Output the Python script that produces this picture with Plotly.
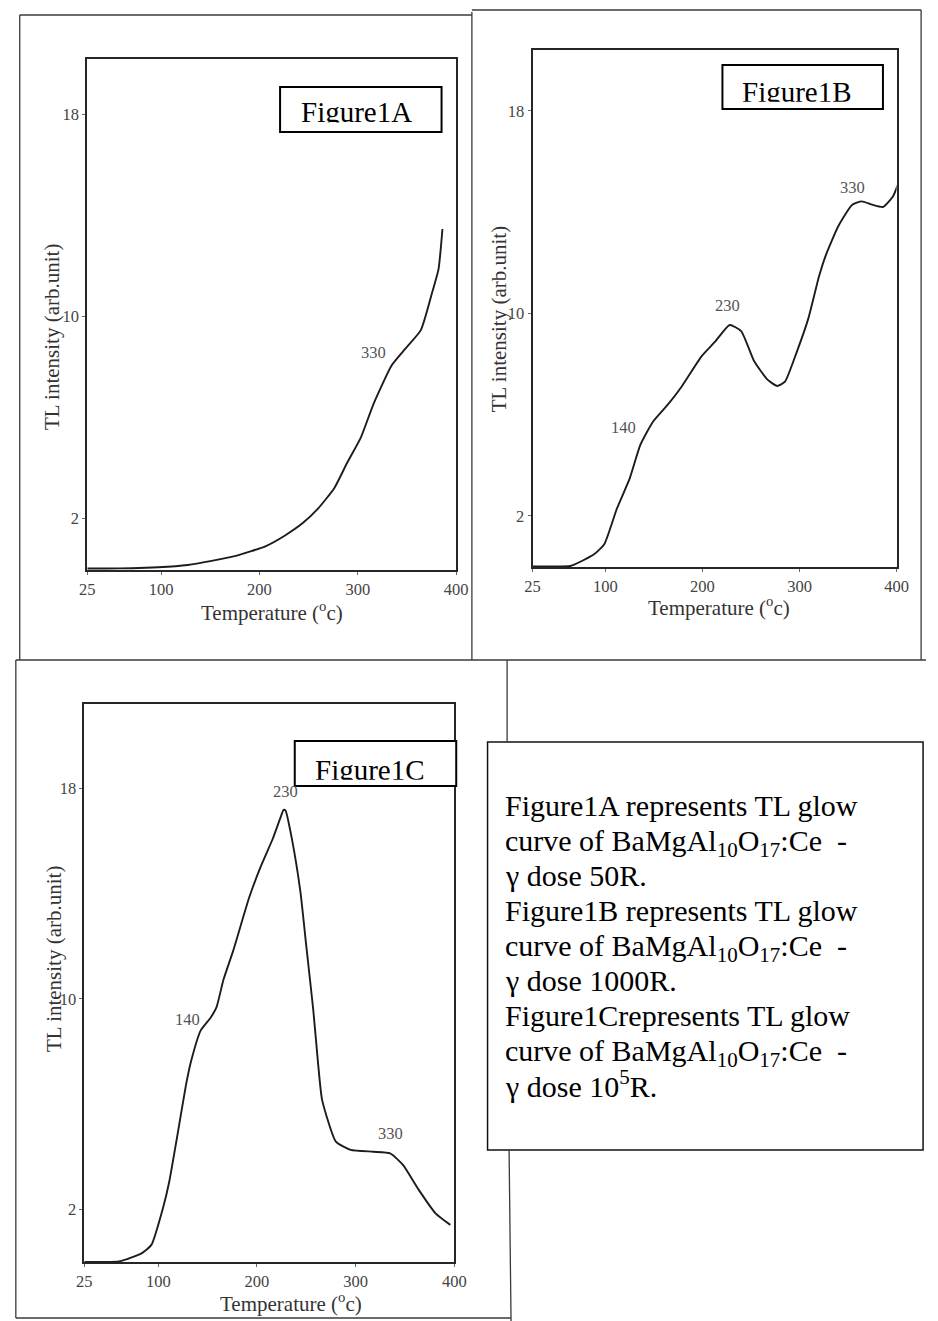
import plotly.graph_objects as go

W, H = 938, 1321

# ---------------- data ----------------
temp_A = [25, 45, 70, 97, 127, 150, 177, 206, 226, 244, 259, 276, 289, 303, 316, 334, 346, 364, 375, 382, 386]
tl_A = [0, 0, 0.01, 0.05, 0.14, 0.29, 0.51, 0.88, 1.31, 1.8, 2.35, 3.18, 4.18, 5.19, 6.53, 8.03, 8.61, 9.45, 10.87, 11.87, 13.46]

temp_B = [25, 45, 64, 88, 99, 112, 125, 136, 149, 166, 179, 199, 213, 228, 240, 253, 267, 277, 285, 297,
          309, 320, 327, 340, 354, 364, 374, 386, 396, 401]
tl_B = [0, 0, 0.02, 0.47, 0.89, 2.3, 3.47, 4.8, 5.72, 6.47, 7.13, 8.3, 8.88, 9.54, 9.29, 8.13, 7.38, 7.13, 7.3, 8.46,
        9.79, 11.45, 12.29, 13.45, 14.28, 14.42, 14.3, 14.2, 14.6, 15.05]

temp_C = [25, 45, 60, 83, 93, 105, 111, 120, 128, 133, 143, 153, 159, 166, 176, 192, 204, 216, 224, 227, 229,
          235, 244, 250, 257, 262, 266, 280, 295, 318, 335, 348, 364, 381, 396]
tl_C = [0, 0, 0.02, 0.33, 0.65, 2.09, 3.04, 4.96, 6.72, 7.6, 8.8, 9.28, 9.68, 10.72, 11.84, 13.84, 15.04, 16.08,
        16.9, 17.18, 17.15, 16.15, 14.07, 12.0, 9.6, 7.52, 6.16, 4.57, 4.26, 4.19, 4.13, 3.69, 2.74, 1.85, 1.41]

x_tick_vals = [25, 100, 200, 300, 400]
y_tick_vals = [2, 10, 18]

peak_A_T = [316]
peak_A_I = [8.55]
peak_A_txt = ["330"]
peak_B_T = [118.5, 225.7, 354.6]
peak_B_I = [5.48, 10.3, 14.96]
peak_B_txt = ["140", "230", "330"]
peak_C_T = [129.7, 228.7, 335.3]
peak_C_I = [9.2, 17.88, 4.88]
peak_C_txt = ["140", "230", "330"]

panel_names = ["Figure1A", "Figure1B", "Figure1C"]
x_title = "Temperature (<sup>o</sup>c)"
y_title = "TL intensity (arb.unit)"
caption_lines = [
    "Figure1A represents TL glow",
    "curve of BaMgAl<sub>10</sub>O<sub>17</sub>:Ce \u00a0-",
    "\u03b3 dose 50R.",
    "Figure1B represents TL glow",
    "curve of BaMgAl<sub>10</sub>O<sub>17</sub>:Ce \u00a0-",
    "\u03b3 dose 1000R.",
    "Figure1Crepresents TL glow",
    "curve of BaMgAl<sub>10</sub>O<sub>17</sub>:Ce \u00a0-",
    "\u03b3 dose 10<sup>5</sup>R.",
]

# ---------------- layout helpers (pixel -> paper) ----------------
def fx(x):
    return x / W


def fy(y):
    return 1 - y / H


SERIF = "Liberation Serif, Times New Roman, serif"

panels = [
    dict(xs=temp_A, ys=tl_A, pT=peak_A_T, pI=peak_A_I, ptxt=peak_A_txt,
         x0=81, x1=458, y0=59, y1=570, yr=[-0.06, 20.2],
         box=(278, 87, 443, 132), ftx=356, fttop=96.4, ftcut=123,
         ytitle=(45, 337), xtitle=(270, 612)),
    dict(xs=temp_B, ys=tl_B, pT=peak_B_T, pI=peak_B_I, ptxt=peak_B_txt,
         x0=536, x1=908, y0=50, y1=567, yr=[-0.02, 20.4],
         box=(730, 65, 894, 109), ftx=806, fttop=76.2, ftcut=102,
         ytitle=(502, 319), xtitle=(726, 606)),
    dict(xs=temp_C, ys=tl_C, pT=peak_C_T, pI=peak_C_I, ptxt=peak_C_txt,
         x0=78, x1=456, y0=704, y1=1262, yr=[0, 21.2],
         box=(293, 741, 458, 786), ftx=370, fttop=754.2, ftcut=780,
         ytitle=(47, 959), xtitle=(289, 1302)),
]

fig = go.Figure()
annotations = []
shapes = []
layout_axes = {}

for i, p in enumerate(panels):
    k = "" if i == 0 else str(i + 1)
    xa, ya = "x" + k, "y" + k
    fig.add_trace(go.Scatter(
        x=p["xs"], y=p["ys"], xaxis=xa, yaxis=ya, mode="lines",
        line=dict(color="#1c1c1c", width=1.9, shape="spline", smoothing=0.5),
        showlegend=False, hoverinfo="skip"))

    common = dict(showline=True, mirror=True, linecolor="#262626", linewidth=1.8,
                  showgrid=False, zeroline=False, ticks="outside", ticklen=3,
                  tickcolor="#666", tickwidth=1,
                  tickfont=dict(family=SERIF, size=16.5, color="#444"))
    layout_axes["xaxis" + k] = dict(domain=[fx(p["x0"]), fx(p["x1"])], range=[25, 400],
                                    tickvals=x_tick_vals, ticktext=[str(v) for v in x_tick_vals],
                                    anchor=ya, **common)
    layout_axes["yaxis" + k] = dict(domain=[fy(p["y1"]), fy(p["y0"])], range=p["yr"],
                                    tickvals=y_tick_vals, ticktext=[str(v) for v in y_tick_vals],
                                    anchor=xa, **common)

    # peak labels
    for T, I, t in zip(p["pT"], p["pI"], p["ptxt"]):
        annotations.append(dict(x=T, y=I, xref=xa, yref=ya, text=t, showarrow=False,
                                xanchor="center", yanchor="middle",
                                font=dict(family=SERIF, size=16.5, color="#555")))

    # axis titles
    annotations.append(dict(x=fx(p["ytitle"][0]), y=fy(p["ytitle"][1]), xref="paper", yref="paper",
                            text=y_title, textangle=-90, showarrow=False,
                            xanchor="center", yanchor="middle",
                            font=dict(family=SERIF, size=21, color="#333")))
    annotations.append(dict(x=fx(p["xtitle"][0]), y=fy(p["xtitle"][1]), xref="paper", yref="paper",
                            text=x_title, showarrow=False, xanchor="center", yanchor="middle",
                            font=dict(family=SERIF, size=21, color="#333")))

    # "FigureX" box with clipped text
    bx0, by0, bx1, by1 = p["box"]
    shapes.append(dict(type="rect", xref="paper", yref="paper", x0=fx(bx0), x1=fx(bx1),
                       y0=fy(by1), y1=fy(by0), line=dict(color="black", width=2),
                       fillcolor="white", layer="above"))
    annotations.append(dict(x=fx(p["ftx"]), y=fy(p["fttop"]), xref="paper", yref="paper",
                            xanchor="center", yanchor="top", text=panel_names[i], showarrow=False,
                            height=p["ftcut"] - p["fttop"], valign="top", borderpad=0, borderwidth=0,
                            font=dict(family=SERIF, size=29, color="black")))

# caption box
shapes.append(dict(type="rect", xref="paper", yref="paper", x0=fx(490), x1=fx(935),
                   y0=fy(1150), y1=fy(742), line=dict(color="#111", width=1.5)))
for j, line in enumerate(caption_lines):
    baseline = 816 + 35 * j
    top = baseline - (31.3 if "<sup>" in line else 26.7)
    annotations.append(dict(x=fx(508), y=fy(top), xref="paper", yref="paper",
                            xanchor="left", yanchor="top", text=line, showarrow=False,
                            borderpad=0, borderwidth=0,
                            font=dict(family=SERIF, size=30, color="black")))

# scanned page borders
border_segments = [
    (12, 15, 474, 15), (12, 15, 12, 660), (474, 12, 474, 660),
    (474, 10, 933, 10), (933, 10, 933, 660),
    (8, 660, 938, 660),
    (8, 660, 8, 1318), (8, 1318, 514, 1318), (510, 660, 510, 742), (512, 1150, 514, 1321),
]
for (a, b, c, d) in border_segments:
    shapes.append(dict(type="line", xref="paper", yref="paper", x0=fx(a), y0=fy(b), x1=fx(c), y1=fy(d),
                       line=dict(color="#3a3a3a", width=1.3)))

fig.update_layout(width=W, height=H, margin=dict(l=0, r=0, t=0, b=0),
                  paper_bgcolor="white", plot_bgcolor="white",
                  annotations=annotations, shapes=shapes, showlegend=False, **layout_axes)

fig.write_html("out.html", config={"displayModeBar": False},
               post_script="document.body.style.margin='0px';document.body.style.overflow='hidden';")
